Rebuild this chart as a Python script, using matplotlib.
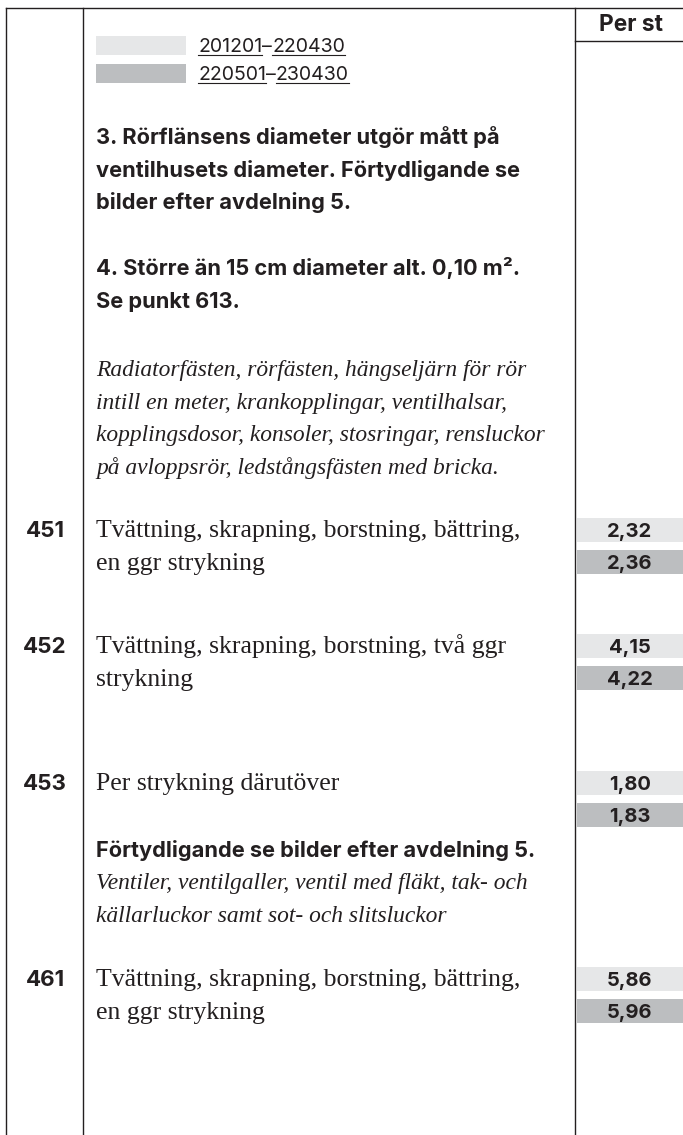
import matplotlib
matplotlib.use("Agg")
import matplotlib.pyplot as plt

# ---------------- data ----------------
legend_labels = ["201201–220430", "220501–230430"]
legend_colors = ["#e6e7e8", "#bcbec0"]
column_header = "Per st"

note_3 = ["3. Rörflänsens diameter utgör mått på",
          "ventilhusets diameter. Förtydligande se",
          "bilder efter avdelning 5."]
note_4 = ["4. Större än 15 cm diameter alt. 0,10 m².",
          "Se punkt 613."]
group_1 = ["Radiatorfästen, rörfästen, hängseljärn för rör",
           "intill en meter, krankopplingar, ventilhalsar,",
           "kopplingsdosor, konsoler, stosringar, rensluckor",
           "på avloppsrör, ledstångsfästen med bricka."]
note_5 = "Förtydligande se bilder efter avdelning 5."
group_2 = ["Ventiler, ventilgaller, ventil med fläkt, tak- och",
           "källarluckor samt sot- och slitsluckor"]

codes = ["451", "452", "453", "461"]
descriptions = [["Tvättning, skrapning, borstning, bättring,", "en ggr strykning"],
                ["Tvättning, skrapning, borstning, två ggr", "strykning"],
                ["Per strykning därutöver"],
                ["Tvättning, skrapning, borstning, bättring,", "en ggr strykning"]]
price_period1 = [2.32, 4.15, 1.80, 5.86]
price_period2 = [2.36, 4.22, 1.83, 5.96]

# ---------------- layout ----------------
W, H = 683, 1135
fig = plt.figure(figsize=(W / 100, H / 100), dpi=100)
ax = fig.add_axes([0, 0, 1, 1])
ax.set_xlim(0, W)
ax.set_ylim(H, 0)
ax.axis("off")
fig.canvas.draw()
renderer = fig.canvas.get_renderer()

INK = "#231f20"
SANS = ["Inter", "Roboto", "DejaVu Sans"]
SERIF = ["Liberation Serif", "DejaVu Serif"]


def text_width(s, **kw):
    t = ax.text(0, 0, s, **kw)
    bb = t.get_window_extent(renderer=renderer)
    t.remove()
    return bb.width


def fit_size(s, target, **kw):
    w = text_width(s, fontsize=10, **kw)
    return 10 * target / w


bold_kw = dict(family=SANS, fontweight="bold")
serif_kw = dict(family=SERIF)
ital_kw = dict(family=SERIF, style="italic")
reg_kw = dict(family=SANS)

bold_size = fit_size(note_3[1], 424, **bold_kw)
ital_size = fit_size(group_1[2], 452, **ital_kw)
serif_size = fit_size(descriptions[0][0], 424, **serif_kw)
leg_size = fit_size(legend_labels[0], 148, **reg_kw)
num_size = fit_size(codes[0], 39, **bold_kw)
val_size = fit_size("2,32", 45, **bold_kw)
head_size = fit_size(column_header, 64, **bold_kw)

# frame lines
x_left, x_mid, x_right = 6, 83, 575
y_top = 8
lw = 1.0
ax.plot([x_left, W], [y_top, y_top], color=INK, lw=lw)
ax.plot([x_left, x_left], [y_top, H], color=INK, lw=lw)
ax.plot([x_mid, x_mid], [y_top, H], color=INK, lw=lw)
ax.plot([x_right, x_right], [y_top, H], color=INK, lw=lw)
ax.plot([x_right, W], [41, 41], color=INK, lw=lw)

ax.text((x_right + W) / 2 + 2, 31, column_header, ha="center", va="baseline",
        fontsize=head_size, color=INK, **bold_kw)

# legend
leg_rows = [45, 73]
for lab, col, yc in zip(legend_labels, legend_colors, leg_rows):
    ax.barh(yc, 90, left=96, height=19, color=col, linewidth=0)
    parts = lab.split("–")
    x = 198
    base = yc + 7
    for i, p in enumerate(parts):
        t = ax.text(x, base, p, ha="left", va="baseline", fontsize=leg_size,
                    color=INK, **reg_kw)
        w = t.get_window_extent(renderer=renderer).width
        ax.plot([x, x + w], [base + 3, base + 3], color=INK, lw=0.8)
        x += w
        if i < len(parts) - 1:
            t2 = ax.text(x, base, "–", ha="left", va="baseline",
                         fontsize=leg_size, color=INK, **reg_kw)
            x += t2.get_window_extent(renderer=renderer).width

X_TEXT = 96
LINE = 32.7


def block(lines, y0, kw, size):
    for i, s in enumerate(lines):
        ax.text(X_TEXT, y0 + i * LINE, s, ha="left", va="baseline",
                fontsize=size, color=INK, **kw)


block(note_3, 144, bold_kw, bold_size)
block(note_4, 275, bold_kw, bold_size)
block(group_1, 376, ital_kw, ital_size)
block([note_5], 857, bold_kw, bold_size)
block(group_2, 889, ital_kw, ital_size)

# price rows
row_centers = [530, 646, 783, 979]
box_h = 24
for code, desc, p1, p2, yc in zip(codes, descriptions, price_period1,
                                   price_period2, row_centers):
    ax.text(45, yc + 7, code, ha="center", va="baseline", fontsize=num_size,
            color=INK, **bold_kw)
    block(desc, yc + 7, serif_kw, serif_size)
    for k, (val, col) in enumerate(zip([p1, p2], legend_colors)):
        yy = yc + k * 32
        ax.barh(yy, W - x_right - 2, left=x_right + 2, height=box_h,
                color=col, linewidth=0)
        ax.text((x_right + W) / 2 + 1, yy + 7,
                f"{val:.2f}".replace(".", ","), ha="center", va="baseline",
                fontsize=val_size, color=INK, **bold_kw)

fig.savefig("out.png", dpi=100, facecolor="white")
